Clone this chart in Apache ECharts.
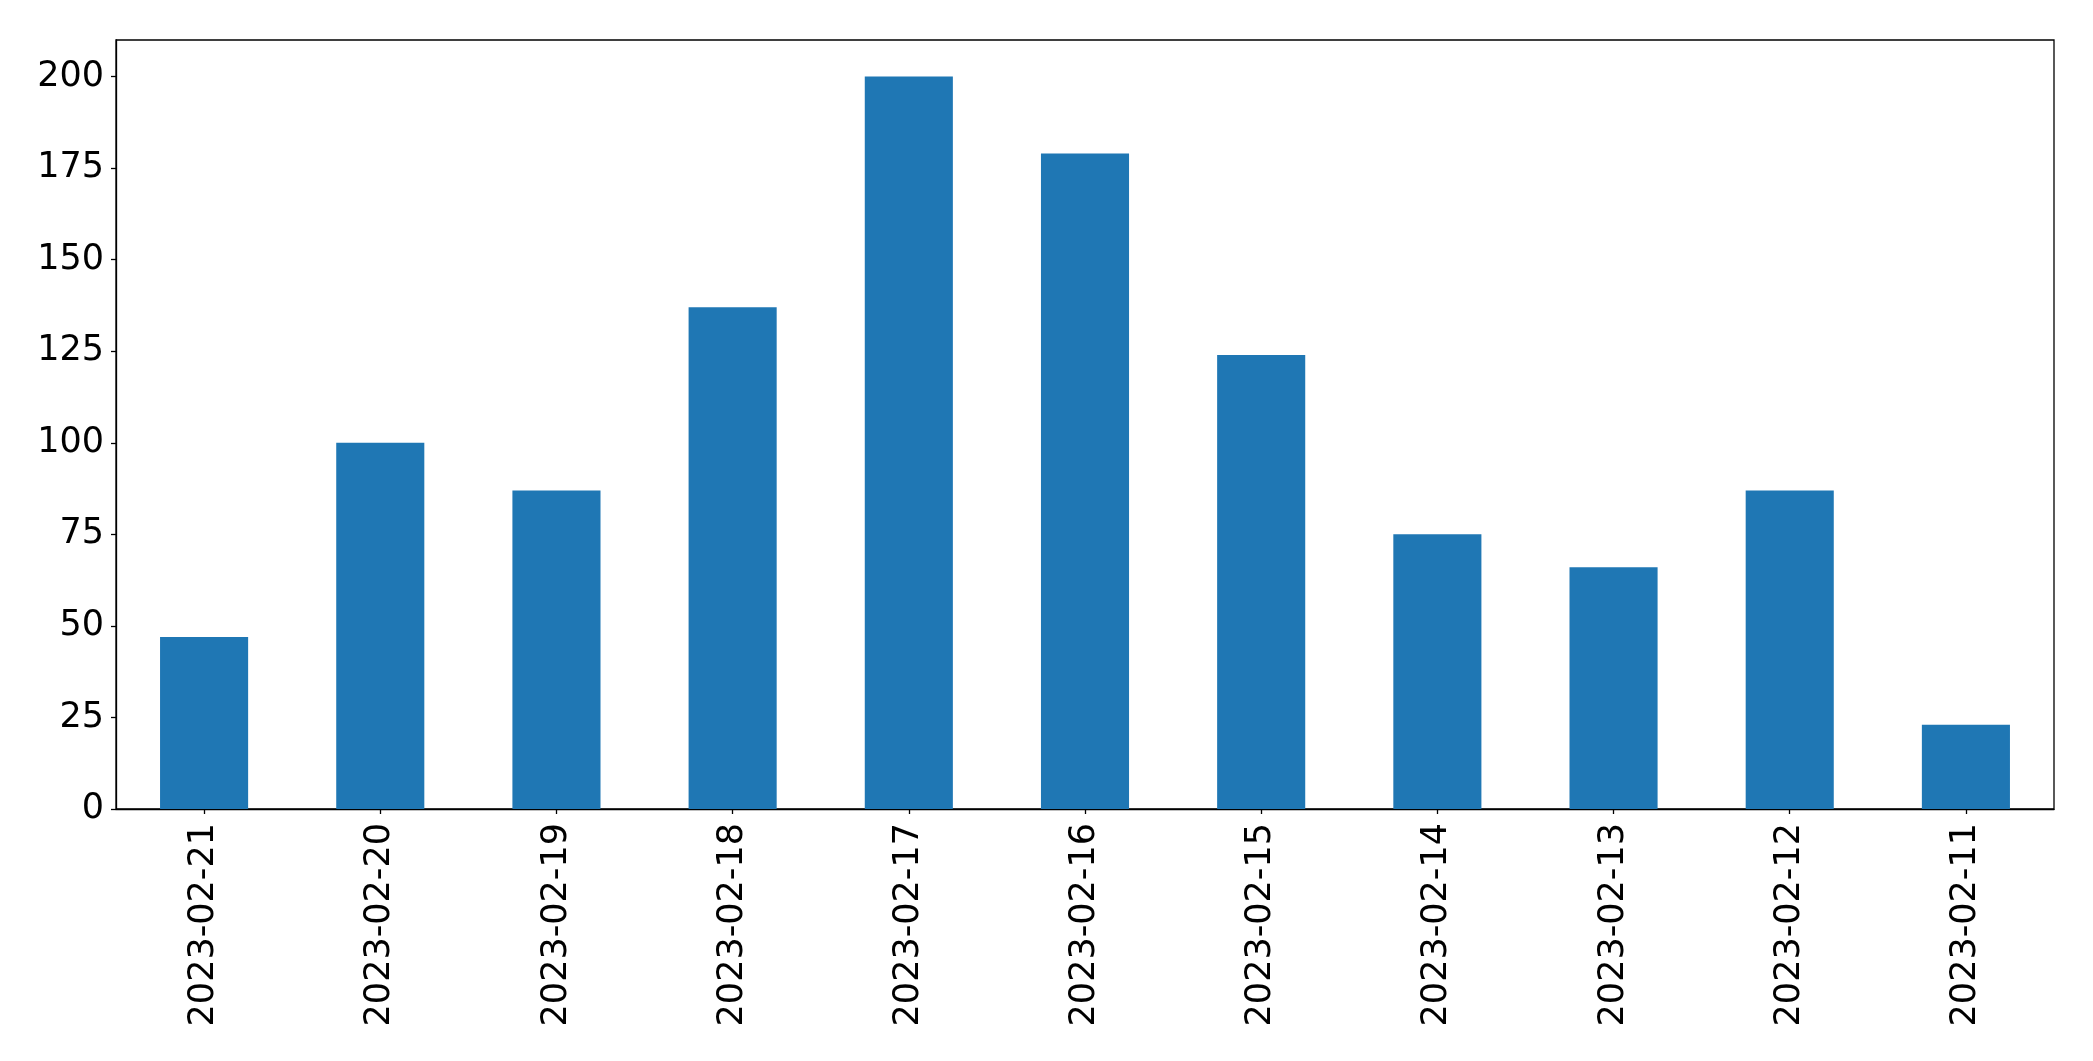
<!DOCTYPE html>
<html>
<head>
<meta charset="utf-8">
<script src="https://cdn.jsdelivr.net/npm/echarts@6/dist/echarts.min.js"></script>
<style>
html,body{margin:0;padding:0;background:#fff;}
#chart{width:2093px;height:1061px;}
</style>
</head>
<body>
<div id="chart"></div>
<script>
const categories = ["2023-02-21","2023-02-20","2023-02-19","2023-02-18","2023-02-17","2023-02-16","2023-02-15","2023-02-14","2023-02-13","2023-02-12","2023-02-11"];
const values = [47, 100, 87, 137, 200, 179, 124, 75, 66, 87, 23];
const yTicks = [0, 25, 50, 75, 100, 125, 150, 175, 200];

const chart = echarts.init(document.getElementById('chart'), null, {renderer: 'canvas'});
chart.setOption({
  animation: false,
  backgroundColor: '#ffffff',
  textStyle: {fontFamily: 'DejaVu Sans'},
  grid: {left: 116, right: 39, top: 40, bottom: 252, show: true, borderColor: '#000', borderWidth: 1.3, containLabel: false},
  xAxis: {
    type: 'category',
    data: categories,
    axisLine: {show: true, lineStyle: {color: '#000', width: 1.3}},
    axisTick: {show: true, alignWithLabel: true, length: 5, lineStyle: {color: '#000', width: 1.3}},
    axisLabel: {rotate: 90, fontSize: 35, color: '#000', margin: 14, fontFamily: 'DejaVu Sans'},
    splitLine: {show: false}
  },
  yAxis: {
    type: 'value',
    min: 0, max: 210, interval: 25,
    axisLine: {show: true, lineStyle: {color: '#000', width: 1.3}},
    axisTick: {show: true, length: 5, lineStyle: {color: '#000', width: 1.3}},
    axisLabel: {fontSize: 35, color: '#000', margin: 12, fontFamily: 'DejaVu Sans', showMaxLabel: false,
      formatter: function (v) { return yTicks.indexOf(v) >= 0 ? String(v) : ''; }},
    splitLine: {show: false}
  },
  series: [{
    type: 'bar',
    data: values,
    barCategoryGap: '50%',
    itemStyle: {color: '#1f77b4'}
  }]
});
</script>
</body>
</html>
